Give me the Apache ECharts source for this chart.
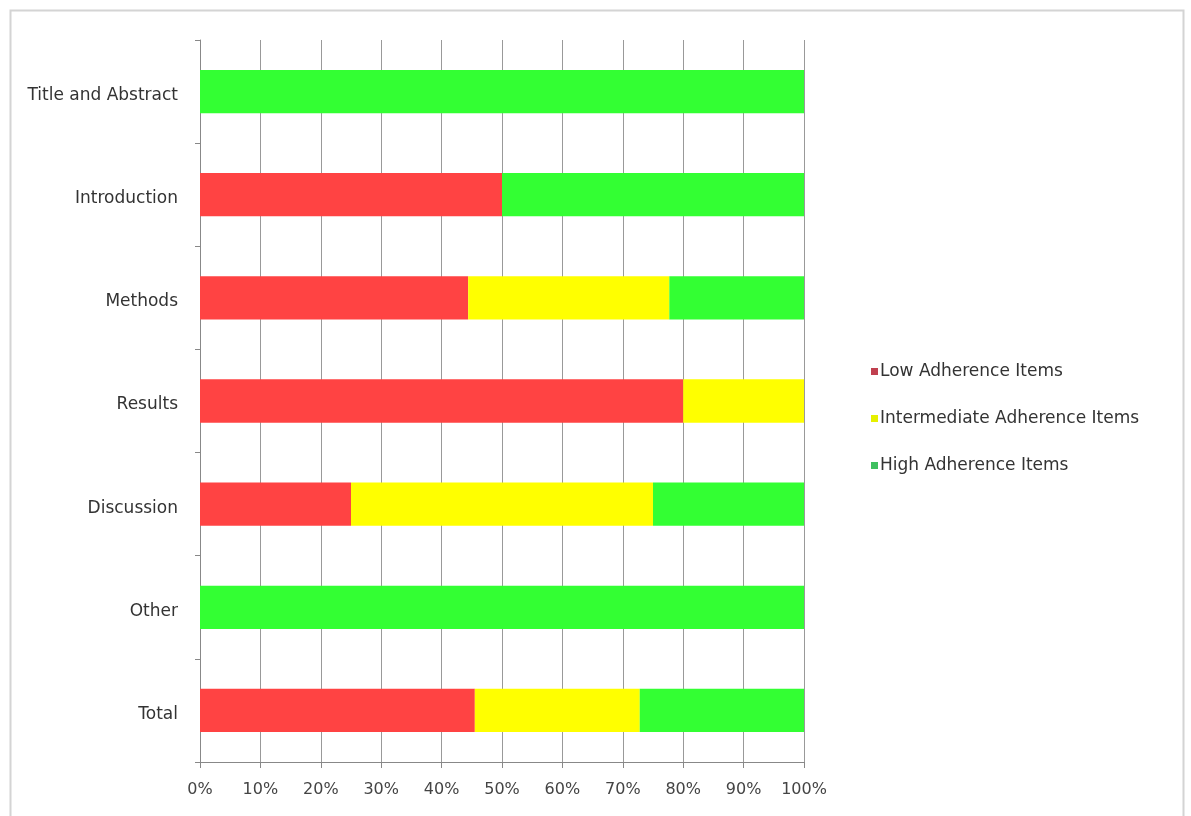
<!DOCTYPE html>
<html>
<head>
<meta charset="utf-8">
<script src="https://cdn.jsdelivr.net/npm/echarts@6/dist/echarts.min.js"></script>
<style>html,body{margin:0;padding:0;background:#fff}#c{width:1191px;height:816px}</style>
</head>
<body>
<div id="c"></div>
<script>
const categories = ["Title and Abstract","Introduction","Methods","Results","Discussion","Other","Total"];
const seriesNames = ["Low Adherence Items","Intermediate Adherence Items","High Adherence Items"];
const lowValues = [0, 50, 44.4, 80, 25, 0, 45.5];
const intermediateValues = [0, 0, 33.3, 20, 50, 0, 27.3];
const highValues = [100, 50, 22.3, 0, 25, 100, 27.2];
const xTicks = [0,10,20,30,40,50,60,70,80,90,100];

const barColors = ["#FF4343", "#FFFF00", "#33FF33"];
const legendColors = ["#C0404F", "#E6F000", "#3FC060"];
const font = "'DejaVu Sans', 'Noto Sans', sans-serif";

const chart = echarts.init(document.getElementById('c'));
const dataSets = [lowValues, intermediateValues, highValues];
chart.setOption({
  animation: false,
  backgroundColor: '#fff',
  graphic: [{
    type: 'rect', shape: {x: 10.5, y: 10.5, width: 1173, height: 820},
    style: {fill: 'none', stroke: '#d4d4d4', lineWidth: 2}, silent: true
  }],
  grid: {left: 200, right: 387, top: 40, bottom: 54, containLabel: false},
  xAxis: {
    type: 'value', min: 0, max: 100, interval: 10,
    axisLabel: {formatter: v => v + '%', color: '#444', fontSize: 16, fontFamily: font, margin: 20},
    axisLine: {show: true, lineStyle: {color: '#888'}},
    axisTick: {show: true, length: 6, lineStyle: {color: '#888'}},
    splitLine: {show: true, lineStyle: {color: '#999', width: 1}}
  },
  yAxis: {
    type: 'category', data: categories, inverse: true,
    axisLabel: {
      margin: 22,
      formatter: v => '{a|' + v + '}',
      rich: {a: {color: '#333', fontSize: 17, fontFamily: font, padding: [8, 0, 0, 0]}}
    },
    axisLine: {show: true, lineStyle: {color: '#888'}},
    axisTick: {show: true, length: 5, lineStyle: {color: '#888'}},
    splitLine: {show: false}
  },
  legend: {
    orient: 'vertical', left: 866, top: 358, itemGap: 30,
    icon: 'rect', itemWidth: 7, itemHeight: 7,
    textStyle: {color: '#333', fontSize: 17, fontFamily: font, padding: [0,0,0,-3]},
    data: seriesNames.map((n, i) => ({name: n, itemStyle: {color: legendColors[i]}}))
  },
  series: seriesNames.map((n, i) => ({
    name: n, type: 'bar', stack: 'total', barWidth: '42%',
    itemStyle: {color: barColors[i]},
    data: dataSets[i]
  }))
});
</script>
</body>
</html>
